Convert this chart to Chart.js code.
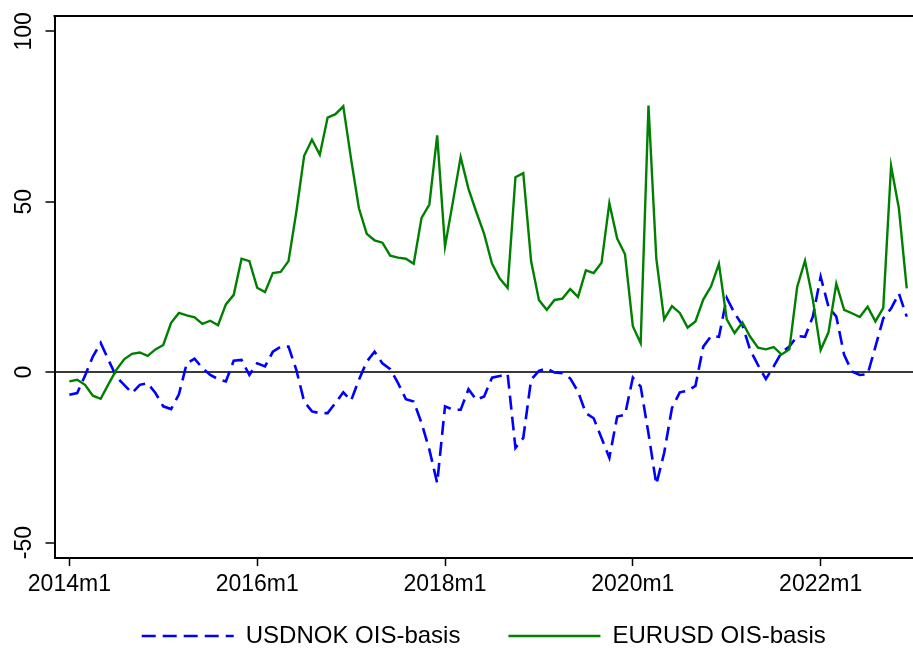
<!DOCTYPE html>
<html>
<head>
<meta charset="utf-8">
<title>OIS-basis</title>
<script src="https://cdn.jsdelivr.net/npm/chart.js"></script>
<style>
  body { margin: 0; background: #fff; }
  #wrap { width: 913px; height: 649px; }
</style>
</head>
<body>
<div id="wrap"><canvas id="myChart"></canvas></div>
<script>
// monthly categories 2014m1 .. 2022m12
var months = [];
for (var yr = 2014; yr <= 2022; yr++) {
  for (var m = 1; m <= 12; m++) {
    months.push(yr + 'm' + m);
  }
}

// basis points
var usdnok = [-6.6, -6.1, -1, 4.6, 8.6, 3.6, -1.3, -3.7, -6.1, -3.7, -3.2, -6.1,
  -10, -10.8, -6.5, 2.6, 4.0, 1.2, -0.8, -2, -2.7, 3.4, 3.6, -0.8,
  2.6, 1.7, 6.0, 7.5, 7.5, 0.7, -8.6, -11.5, -12, -12, -9, -5.9,
  -8.3, -2.2, 3.1, 6.0, 2.6, 0.9, -3.2, -7.9, -8.6, -14.9, -22.7, -32.5,
  -10, -11, -11, -5, -8.1, -7.1, -1.6, -1.1, -0.5, -22.2, -19.3, -2.2,
  0.4, 1.1, -0.1, -0.3, -1.8, -5.7, -12, -13.5, -19.3, -25.1, -13, -12.5,
  -1.6, -4.2, -18, -32.9, -23.7, -10.5, -5.9, -5.4, -4.0, 7.5, 10.6, 10.4,
  21.8, 17.3, 13.8, 6.5, 2.1, -2.0, 1.7, 5.8, 7.5, 10.6, 10.4, 16.3,
  28.0, 19.2, 16.3, 5.1, 0.2, -0.8, -0.6, 7.5, 15.8, 18.7, 23.1, 16.3];

var eurusd = [-2.7, -2.2, -3.7, -6.9, -7.8, -3.5, 0.7, 3.8, 5.4, 5.8, 4.8, 6.7,
  8.0, 14.5, 17.4, 16.7, 16.1, 14.2, 15.1, 13.8, 19.9, 22.7, 33.3, 32.6,
  24.8, 23.5, 29.1, 29.4, 32.6, 47.0, 63.5, 68.2, 63.8, 74.7, 75.7, 78.0,
  62.5, 48.1, 40.6, 38.7, 38.0, 34.2, 33.6, 33.3, 31.8, 45.3, 49.2, 69.5,
  36.9, 49.9, 63.1, 53.8, 47.0, 40.6, 31.9, 27.5, 24.7, 57.2, 58.4, 32.6,
  21.2, 18.3, 21.2, 21.6, 24.4, 22.1, 29.9, 29.1, 32.1, 49.6, 39.2, 34.6,
  13.5, 8.5, 78.2, 33.3, 15.5, 19.4, 17.4, 13.1, 14.9, 21.3, 25.2, 31.8,
  15.5, 11.5, 14.6, 10.4, 7.2, 6.7, 7.4, 5.2, 6.7, 25.0, 32.7, 21.3,
  6.5, 11.7, 26.0, 18.3, 17.3, 16.2, 19.2, 14.9, 18.9, 60.5, 48.0, 24.6];

var xTickLabels = ['2014m1', '2016m1', '2018m1', '2020m1', '2022m1'];
var yTicks = [-50, 0, 50, 100];

function toPoints(arr) {
  return arr.map(function(v, i) { return { x: i, y: v }; });
}

// legend lines should look like the series lines (dash + width)
function legendLabels(chart) {
  var items = Chart.defaults.plugins.legend.labels.generateLabels(chart);
  items.forEach(function(it) {
    var ds = chart.data.datasets[it.datasetIndex];
    it.strokeStyle = ds.borderColor;
    it.lineWidth = ds.borderWidth;
    it.lineDash = ds.borderDash || [];
    if (it.datasetIndex === 0) it.text = it.text + '   ';
  });
  items.sort(function(a, b) { return a.datasetIndex - b.datasetIndex; });
  return items;
}

// top edge of the plot frame
var topFrame = {
  id: 'topFrame',
  afterDraw: function(chart) {
    var a = chart.chartArea, c = chart.ctx;
    c.save();
    c.strokeStyle = '#000';
    c.lineWidth = 2;
    c.beginPath();
    c.moveTo(a.left - 1, a.top);
    c.lineTo(a.right, a.top);
    c.stroke();
    c.restore();
  }
};

function drawChart() {
  Chart.defaults.font.family = '"Liberation Sans", Arial, sans-serif';
  Chart.defaults.color = '#000';

  var ctx = document.getElementById('myChart').getContext('2d');
  var chart = new Chart(ctx, {
    type: 'line',
    data: {
      datasets: [{
        label: 'USDNOK OIS-basis',
        data: toPoints(usdnok),
        borderColor: '#0000ff',
        backgroundColor: '#0000ff',
        borderWidth: 2.6,
        borderDash: [14, 7],
        pointRadius: 0,
        tension: 0,
        order: 1
      }, {
        label: 'EURUSD OIS-basis',
        data: toPoints(eurusd),
        borderColor: '#008000',
        backgroundColor: '#008000',
        borderWidth: 2.4,
        pointRadius: 0,
        tension: 0,
        order: 0
      }]
    },
    plugins: [topFrame],
    options: {
      responsive: true,
      maintainAspectRatio: false,
      animation: false,
      devicePixelRatio: 1,
      layout: { padding: { top: 16, left: 0, right: 0, bottom: 0 } },
      scales: {
        x: {
          type: 'linear',
          position: 'bottom',
          min: -1.9,
          max: 107.8,
          afterBuildTicks: function(scale) {
            scale.ticks = xTickLabels.map(function(l) { return { value: months.indexOf(l) }; });
          },
          afterFit: function(scale) { scale.height = 38; },
          ticks: {
            autoSkip: false,
            maxRotation: 0,
            padding: 5,
            font: { size: 23 },
            callback: function(v) { return months[v]; }
          },
          grid: {
            drawOnChartArea: false,
            tickLength: 8,
            tickColor: '#000',
            tickWidth: 1.5
          },
          border: { color: '#000', width: 2 }
        },
        y: {
          type: 'linear',
          min: -54.5,
          max: 104.5,
          afterBuildTicks: function(scale) {
            scale.ticks = yTicks.map(function(v) { return { value: v }; });
          },
          afterFit: function(scale) { scale.width = 54.5; },
          ticks: {
            minRotation: 90,
            maxRotation: 90,
            crossAlign: 'center',
            padding: 2,
            font: { size: 23 },
            callback: function(v) { return v; }
          },
          grid: {
            color: function(c) {
              return (c.tick && c.tick.value === 0) ? '#3a3a3a' : 'rgba(0,0,0,0)';
            },
            lineWidth: 2,
            tickLength: 9,
            tickColor: '#000',
            tickWidth: 1.5
          },
          border: { color: '#000', width: 2 }
        }
      },
      plugins: {
        tooltip: { enabled: false },
        legend: {
          position: 'bottom',
          fullSize: false,
          maxHeight: 53,
          labels: {
            usePointStyle: true,
            pointStyle: 'line',
            pointStyleWidth: 92,
            padding: 28,
            font: { size: 24 },
            color: '#000',
            generateLabels: legendLabels
          }
        }
      }
    }
  });
}

drawChart();
</script>
</body>
</html>
